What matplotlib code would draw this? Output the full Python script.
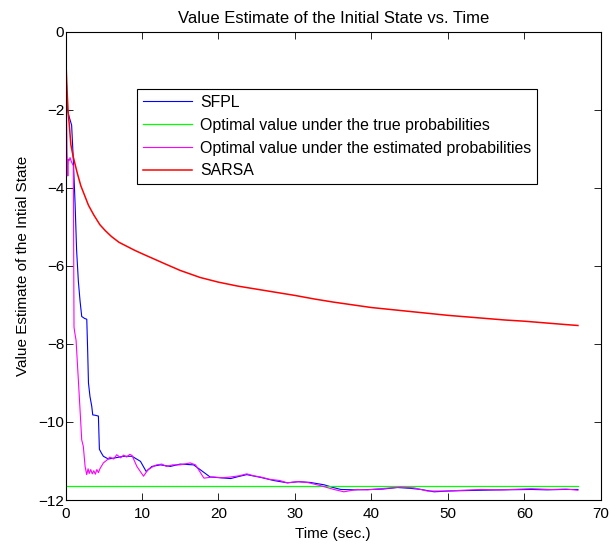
import matplotlib
matplotlib.use('Agg')
import matplotlib.pyplot as plt

plt.rcParams['font.family'] = ['Liberation Sans', 'DejaVu Sans']
plt.rcParams['font.size'] = 11

# SFPL value estimate (time in sec., value)
sfpl_t = [0, 0.1, 0.25, 0.5, 0.8, 1.0, 1.25, 1.45, 1.68, 1.9, 2.12, 2.5, 2.78, 2.9, 3.0,
          3.2, 3.43, 3.56, 3.9, 4.3, 4.43, 4.7, 4.95, 5.6, 6.5, 7.6, 8.7, 9.8, 10.55,
          11.3, 12.4, 13.7, 15.0, 16.75, 17.8, 18.9, 20.2, 21.6, 22.6, 23.7, 25.5, 27.2,
          29.0, 30.5, 32.0, 33.8, 35.0, 36.0, 38.0, 39.9, 41.5, 43.4, 45.0, 46.5, 48.2,
          50.0, 52.0, 54.3, 57.0, 60.9, 63.0, 65.0, 67.0]
sfpl_v = [0, -1.2, -2.0, -2.2, -2.4, -3.2, -4.4, -5.6, -6.4, -6.9, -7.3, -7.35, -7.37, -8.2, -9.0,
          -9.35, -9.6, -9.82, -9.83, -9.85, -10.7, -10.8, -10.88, -10.95, -10.92, -10.88, -10.88, -11.01, -11.27,
          -11.14, -11.10, -11.14, -11.08, -11.10, -11.25, -11.41, -11.43, -11.45, -11.40, -11.35, -11.42, -11.50,
          -11.56, -11.53, -11.55, -11.61, -11.68, -11.73, -11.74, -11.73, -11.72, -11.68, -11.70, -11.73, -11.79,
          -11.77, -11.76, -11.75, -11.74, -11.73, -11.74, -11.73, -11.73]

# optimal value under the true probabilities
true_t = [0, 67.0]
true_v = [-11.63, -11.63]

# optimal value under the estimated probabilities
est_t = [0, 0.1, 0.2, 0.3, 0.37, 0.5, 0.59, 0.8, 1.02, 1.11, 1.2, 1.38, 1.68, 1.9, 2.12,
         2.33, 2.56, 2.77, 2.95, 3.1, 3.3, 3.5, 3.7, 3.9, 4.1, 4.3, 4.5, 4.95, 5.4,
         5.8, 6.3, 6.7, 7.2, 7.6, 8.0, 8.4, 8.7, 9.33, 10.2, 10.8, 11.4, 11.9, 12.6,
         13.2, 14.0, 15.0, 16.3, 17.0, 18.1, 19.3, 20.5, 21.6, 22.7, 23.7, 24.6, 25.5,
         26.7, 28.0, 29.0, 30.3, 31.6, 33.3, 35.1, 36.4, 38.1, 39.5, 41.2, 43.8, 45.6,
         47.3, 49.9, 52.0, 54.3, 57.0, 60.9, 63.5, 65.5, 67.0]
est_v = [0, -1.5, -3.1, -3.7, -3.27, -3.3, -3.23, -3.35, -3.44, -7.57, -7.7, -7.91, -8.93, -9.69, -10.46,
         -10.63, -11.14, -11.35, -11.2, -11.32, -11.22, -11.33, -11.25, -11.34, -11.22, -11.30, -11.2, -11.05, -10.98,
         -10.9, -10.95, -10.84, -10.92, -10.85, -10.9, -10.83, -10.86, -11.14, -11.39, -11.22, -11.15, -11.1, -11.08,
         -11.14, -11.1, -11.10, -11.05, -11.1, -11.44, -11.41, -11.43, -11.41, -11.38, -11.33, -11.38, -11.41,
         -11.47, -11.5, -11.56, -11.53, -11.55, -11.63, -11.73, -11.79, -11.73, -11.74, -11.71, -11.67, -11.69,
         -11.77, -11.77, -11.75, -11.73, -11.74, -11.71, -11.73, -11.72, -11.75]

# SARSA value estimate
sarsa_t = [0, 0.1, 0.2, 0.35, 0.5, 0.7, 1.0, 1.5, 2.0, 2.5, 3.0, 3.7, 4.5, 5.2, 6.0, 7.0,
           8.0, 9.0, 10.0, 11.5, 13.0, 15.0, 17.6, 20.0, 22.5, 25.0, 27.5, 30.0, 32.5, 35.0,
           37.5, 40.0, 42.5, 45.0, 47.5, 50.0, 52.5, 55.0, 57.5, 60.0, 62.5, 65.0, 67.0]
sarsa_v = [-0.5, -1.0, -1.5, -2.1, -2.4, -2.9, -3.2, -3.6, -3.95, -4.2, -4.45, -4.7, -4.95, -5.1, -5.25, -5.4,
           -5.5, -5.6, -5.69, -5.82, -5.95, -6.12, -6.3, -6.42, -6.52, -6.6, -6.68, -6.76, -6.85, -6.93,
           -7.0, -7.07, -7.12, -7.17, -7.22, -7.27, -7.31, -7.35, -7.39, -7.42, -7.46, -7.5, -7.53]

fig = plt.figure(figsize=(6.1, 5.5), dpi=100)
ax = fig.add_axes([0.1074, 0.0909, 0.8776, 0.8518])

ax.plot(sfpl_t, sfpl_v, color='#0000ff', lw=0.8, label='SFPL')
ax.plot(true_t, true_v, color='#00ff00', lw=0.9, label='Optimal value under the true probabilities')
ax.plot(est_t, est_v, color='#ff00ff', lw=0.8, label='Optimal value under the estimated probabilities')
ax.plot(sarsa_t, sarsa_v, color='#ff0000', lw=1.1, label='SARSA')

ax.set_xlim(0, 70)
ax.set_ylim(-12, 0)
ax.set_xticks(range(0, 71, 10))
ax.set_yticks(range(-12, 1, 2))
ax.tick_params(direction='in', top=True, right=True, length=5, width=0.6, labelsize=11)
ax.tick_params(axis='x', pad=5)
ax.tick_params(axis='y', pad=1)
for s in ax.spines.values():
    s.set_linewidth(0.8)

ax.set_title('Value Estimate of the Initial State vs. Time', fontsize=12, pad=6)
ax.set_xlabel('Time (sec.)', fontsize=11, labelpad=4)
ax.set_ylabel('Value Estimate of the Intial State', fontsize=11, labelpad=6)

leg = ax.legend(loc='upper left', bbox_to_anchor=(0.134, 0.877), borderaxespad=0,
                fancybox=False, framealpha=1, edgecolor='black', fontsize=11.4,
                handlelength=3.1, handletextpad=0.5, labelspacing=0.5, borderpad=0.35)
leg.get_frame().set_linewidth(0.8)

plt.savefig('out.png', dpi=100)
